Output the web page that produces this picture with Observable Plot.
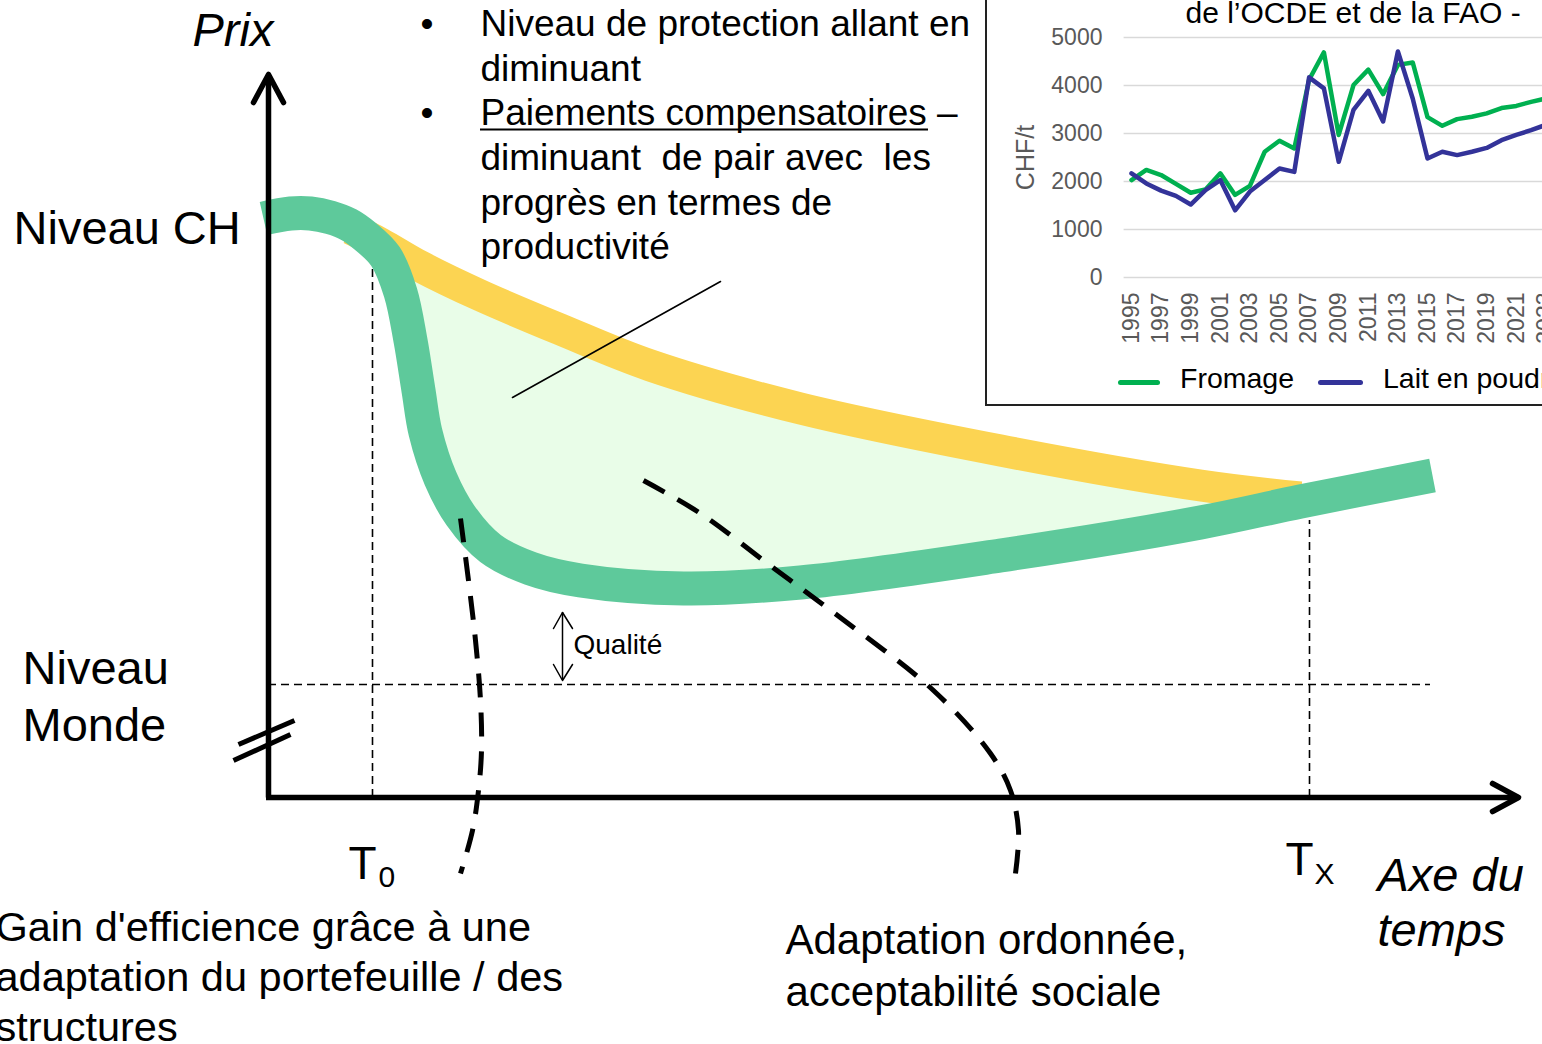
<!DOCTYPE html>
<html><head><meta charset="utf-8">
<script src="https://cdn.jsdelivr.net/npm/d3@7"></script>
<script src="https://cdn.jsdelivr.net/npm/@observablehq/plot@0.6"></script>
<style>
html,body{margin:0;padding:0;background:#fff;width:1542px;height:1044px;overflow:hidden;position:relative;font-family:"Liberation Sans",Arial,sans-serif;}
.abs{position:absolute;}
svg{max-width:none !important;}
svg text{white-space:pre;}
.sw{position:absolute;height:5px;border-radius:3px;}
.lg{position:absolute;font-size:28.5px;line-height:28px;color:#000;white-space:nowrap;}
</style></head><body>
<div id="main" class="abs" style="left:0;top:0;width:1542px;height:1044px"></div>
<div id="box" class="abs" style="left:985px;top:-20px;width:640px;height:422px;border:2px solid #222;background:#fff"></div>
<div id="inset" class="abs" style="left:986px;top:0;width:600px;height:406px"></div>
<div class="sw" style="left:1118px;top:379.5px;width:42px;background:#00B050"></div>
<div class="lg" style="left:1180px;top:364px">Fromage</div>
<div class="sw" style="left:1318px;top:379.5px;width:45px;background:#333399"></div>
<div class="lg" style="left:1383px;top:364px">Lait en poudre</div>
<script>
// ---------- Inset: prix OCDE-FAO (CHF/t) ----------
const years = [1995,1996,1997,1998,1999,2000,2001,2002,2003,2004,2005,2006,2007,2008,2009,2010,2011,2012,2013,2014,2015,2016,2017,2018,2019,2020,2021,2022,2023];
const fromage = [2030,2240,2135,1950,1765,1835,2170,1720,1910,2620,2850,2690,4120,4690,2970,4010,4330,3820,4430,4480,3340,3160,3300,3350,3420,3530,3575,3660,3730];
const laitPoudre = [2170,1960,1810,1700,1520,1820,2030,1400,1790,2030,2270,2200,4170,3940,2410,3490,3890,3250,4710,3730,2480,2620,2550,2620,2700,2860,2970,3070,3180];
const insetYTicks = [0,1000,2000,3000,4000,5000];
const insetXTicks = [1995,1997,1999,2001,2003,2005,2007,2009,2011,2013,2015,2017,2019,2021,2023];
const insetTitle = ["de l\u2019OCDE et de la FAO -"];
const insetYLabel = ["CHF/t"];

// ---------- Diagramme (unités : temps, prix) ----------
// Prix en Suisse (courbe verte)
const chT = [-0.5,2.2,4.2,6.2,8.0,9.7,11.7,13.2,14.2,15.0,15.7,17.2,19.2,22.2,26.2,31.2,41.5,53.2,73.2,93.2,103.2,116.4];
const chP = [57.9,58.4,58.4,58.0,57.3,56.1,54.1,50.5,45.7,40.7,36.5,31.9,28.2,24.9,22.9,21.7,20.9,21.5,24.2,27.5,29.6,32.2];
// Niveau de protection + paiements (courbe jaune)
const protT = [8.2,11.2,15.2,21.2,29.2,38.2,53.2,73.2,93.2,103.2];
const protP = [56.9,55.4,53.1,50.2,46.8,43.2,38.9,34.7,31.2,30.0];
// Zone des paiements compensatoires
const fillT = [13.2,14.2,15.0,15.7,17.2,19.2,22.2,26.2,31.2,41.5,53.2,73.2,93.2,103.2];
const fillTop = [54.2,53.7,53.2,52.8,52.1,51.0,49.8,48.1,46.0,42.2,38.9,34.7,31.2,30.0];
const fillBottom = [50.5,45.7,40.7,36.5,31.9,28.2,24.9,22.9,21.7,20.9,21.5,24.2,27.5,29.6];
// Trajectoires en pointillés
const effT = [19.2,20.0,20.7,21.2,21.3,21.0,20.4,19.2];
const effP = [27.9,21.7,15.7,9.7,4.7,0.7,-3.3,-7.6];
const adaptT = [37.5,43.2,49.9,56.5,66.5,72.2,74.2,75.0,74.7];
const adaptP = [31.7,28.4,23.4,18.5,10.7,4.4,0.7,-3.3,-7.6];
// Repères
const T0 = 10.4, TX = 104.1, worldLevel = 11.3;
const t0Top = 53.5, txTop = 27.7, worldEnd = 116.2;
const pointerT = [24.4,45.2], pointerP = [40.0,51.6];
const yAxisT = [0,0], yAxisP = [0,72.2];
const yArrowT = [-1.5,0,1.5], yArrowP = [69.5,72.3,69.5];
const xAxisT = [-0.25,125], xAxisP = [0,0];
const xArrowT = [122.4,125,122.4], xArrowP = [1.4,0,-1.4];
const break1T = [-3.0,2.6], break1P = [5.3,7.7];
const break2T = [-3.5,2.2], break2P = [3.7,6.3];
const qualT = 29.4, qualTop = 18.5, qualBottom = 11.7;
const qualHeadT = [28.5,29.4,30.4], qualHeadTopP = [16.9,18.5,16.9], qualHeadBotP = [13.3,11.7,13.3];
// Textes
const bulletLines = ["Niveau de protection allant en","diminuant","Paiements compensatoires \u2013","diminuant  de pair avec  les","progr\u00e8s en termes de","productivit\u00e9"];
const bulletP = [76.2,71.7,67.3,62.8,58.3,53.9];
const bulletDotP = [76.2,67.3];
const underlineT = [21.2,66.0], underlineP = 66.8;
const bigLabels = [
  {s:"Niveau CH", t:-25.5, p:55.4},
  {s:"Niveau", t:-24.6, p:11.4},
  {s:"Monde", t:-24.6, p:5.7}
];
const italicLabels = [
  {s:"Prix", t:-7.6, p:75.2},
  {s:"Axe du", t:110.9, p:-9.3},
  {s:"temps", t:110.9, p:-14.8}
];
const timeMarks = [{s:"T", t:8.0, p:-8.1},{s:"T", t:101.7, p:-7.7}];
const timeSubs = [{s:"0", t:11.0, p:-8.9},{s:"X", t:104.6, p:-8.6}];
const gainLines = ["Gain d'efficience gr\u00e2ce \u00e0 une","adaptation du portefeuille / des","structures"];
const gainP = [-14.3,-19.3,-24.3], gainT = -27.3;
const adaptLines = ["Adaptation ordonn\u00e9e,","acceptabilit\u00e9 sociale"];
const adaptLabelP = [-15.6,-20.8], adaptLabelT = 51.7;
const qualLabel = [{s:"Qualit\u00e9", t:30.5, p:14.4}];

const pts = (T, P) => T.map((t, i) => ({t, p: P[i]}));
const FONT = '"Liberation Sans", Arial, sans-serif';

const main = Plot.plot({
  width: 1542, height: 1044, margin: 0,
  x: {domain: [-26.8, 127.4], axis: null},
  y: {domain: [-24.7, 79.7], axis: null},
  style: {fontFamily: FONT, background: "transparent", overflow: "visible", color: "#000"},
  marks: [
    Plot.areaY(fillT.map((t,i)=>({t, a: fillTop[i], b: fillBottom[i]})), {x:"t", y1:"a", y2:"b", fill:"#E9FDE8", curve:"catmull-rom"}),
    Plot.ruleX([T0], {y1: 0, y2: t0Top, stroke:"#000", strokeWidth:1.6, strokeDasharray:"8,5"}),
    Plot.ruleX([TX], {y1: 0, y2: txTop, stroke:"#000", strokeWidth:1.6, strokeDasharray:"8,5"}),
    Plot.ruleY([worldLevel], {x1: 0, x2: worldEnd, stroke:"#000", strokeWidth:1.4, strokeDasharray:"8,5"}),
    Plot.line(pts(protT, protP), {x:"t", y:"p", stroke:"#FCD452", strokeWidth:32, curve:"catmull-rom", strokeLinecap:"butt"}),
    Plot.line(pts(chT, chP), {x:"t", y:"p", stroke:"#5EC99B", strokeWidth:34, curve:"catmull-rom", strokeLinecap:"butt"}),
    Plot.line(pts(pointerT, pointerP), {x:"t", y:"p", stroke:"#000", strokeWidth:1.6}),
    Plot.line(pts(effT, effP), {x:"t", y:"p", stroke:"#000", strokeWidth:5, strokeDasharray:"24,15", curve:"catmull-rom", strokeLinecap:"butt"}),
    Plot.line(pts(adaptT, adaptP), {x:"t", y:"p", stroke:"#000", strokeWidth:5, strokeDasharray:"24,15", curve:"catmull-rom", strokeLinecap:"butt"}),
    Plot.line(pts(yAxisT, yAxisP), {x:"t", y:"p", stroke:"#000", strokeWidth:5.5, strokeLinecap:"butt"}),
    Plot.line(pts(yArrowT, yArrowP), {x:"t", y:"p", stroke:"#000", strokeWidth:5.5, strokeLinecap:"round", strokeLinejoin:"round"}),
    Plot.line(pts(xAxisT, xAxisP), {x:"t", y:"p", stroke:"#000", strokeWidth:5.5, strokeLinecap:"butt"}),
    Plot.line(pts(xArrowT, xArrowP), {x:"t", y:"p", stroke:"#000", strokeWidth:5.5, strokeLinecap:"round", strokeLinejoin:"round"}),
    Plot.line(pts(break1T, break1P), {x:"t", y:"p", stroke:"#000", strokeWidth:5, strokeLinecap:"butt"}),
    Plot.line(pts(break2T, break2P), {x:"t", y:"p", stroke:"#000", strokeWidth:5, strokeLinecap:"butt"}),
    Plot.ruleX([qualT], {y1: qualBottom, y2: qualTop, stroke:"#000", strokeWidth:1.5}),
    Plot.line(pts(qualHeadT, qualHeadTopP), {x:"t", y:"p", stroke:"#000", strokeWidth:1.5}),
    Plot.line(pts(qualHeadT, qualHeadBotP), {x:"t", y:"p", stroke:"#000", strokeWidth:1.5}),
    // texts
    Plot.text(bulletLines.map((s,i)=>({s, p: bulletP[i]})), {x: 21.2, y:"p", text:"s", textAnchor:"start", lineAnchor:"bottom", fontSize:37, fill:"#000"}),
    Plot.text(bulletDotP, {x: 15.2, y: d=>d, text: ()=>"\u2022", textAnchor:"start", lineAnchor:"bottom", fontSize:37, fill:"#000"}),
    Plot.ruleY([underlineP], {x1: underlineT[0], x2: underlineT[1], stroke:"#000", strokeWidth:2}),
    Plot.text(bigLabels, {x:"t", y:"p", text:"s", textAnchor:"start", lineAnchor:"bottom", fontSize:47, fill:"#000"}),
    Plot.text(italicLabels, {x:"t", y:"p", text:"s", textAnchor:"start", lineAnchor:"bottom", fontSize:47, fontStyle:"italic", fill:"#000"}),
    Plot.text(timeMarks, {x:"t", y:"p", text:"s", textAnchor:"start", lineAnchor:"bottom", fontSize:46, fill:"#000"}),
    Plot.text(timeSubs, {x:"t", y:"p", text:"s", textAnchor:"start", lineAnchor:"bottom", fontSize:30, fill:"#000"}),
    Plot.text(gainLines.map((s,i)=>({s, p: gainP[i]})), {x: gainT, y:"p", text:"s", textAnchor:"start", lineAnchor:"bottom", fontSize:41.5, fill:"#000"}),
    Plot.text(adaptLines.map((s,i)=>({s, p: adaptLabelP[i]})), {x: adaptLabelT, y:"p", text:"s", textAnchor:"start", lineAnchor:"bottom", fontSize:42, fill:"#000"}),
    Plot.text(qualLabel, {x:"t", y:"p", text:"s", textAnchor:"start", lineAnchor:"bottom", fontSize:28, fill:"#000"})
  ]
});
document.getElementById("main").appendChild(main);

const inset = Plot.plot({
  width: 600, height: 406,
  marginLeft: 145, marginRight: 40.6, marginTop: 37, marginBottom: 129,
  x: {domain: [1995, 2023], axis: null},
  y: {domain: [0, 5000], axis: null},
  style: {fontFamily: FONT, background: "transparent", overflow: "visible"},
  marks: [
    Plot.ruleY(insetYTicks, {x1: 1994.5, x2: 2034, stroke:"#D9D9D9", strokeWidth:1.6}),
    Plot.axisY(insetYTicks, {tickSize:0, tickPadding:29, fontSize:23, color:"#595959", label:null, tickFormat:"d"}),
    Plot.axisX(insetXTicks, {tickSize:0, tickRotate:-90, tickPadding:15, fontSize:23, color:"#595959", label:null, tickFormat:"d"}),
    Plot.text(insetYLabel, {frameAnchor:"left", dx:-106, rotate:-90, textAnchor:"middle", lineAnchor:"middle", fontSize:25, fill:"#595959"}),
    Plot.text(insetTitle, {frameAnchor:"top-left", dx:54, dy:-15, textAnchor:"start", lineAnchor:"bottom", fontSize:30, fill:"#000"}),
    Plot.line(years.map((y,i)=>({y, v: fromage[i]})), {x:"y", y:"v", stroke:"#00B050", strokeWidth:4.5}),
    Plot.line(years.map((y,i)=>({y, v: laitPoudre[i]})), {x:"y", y:"v", stroke:"#333399", strokeWidth:4.5})
  ]
});
document.getElementById("inset").appendChild(inset);
</script>
</body></html>
